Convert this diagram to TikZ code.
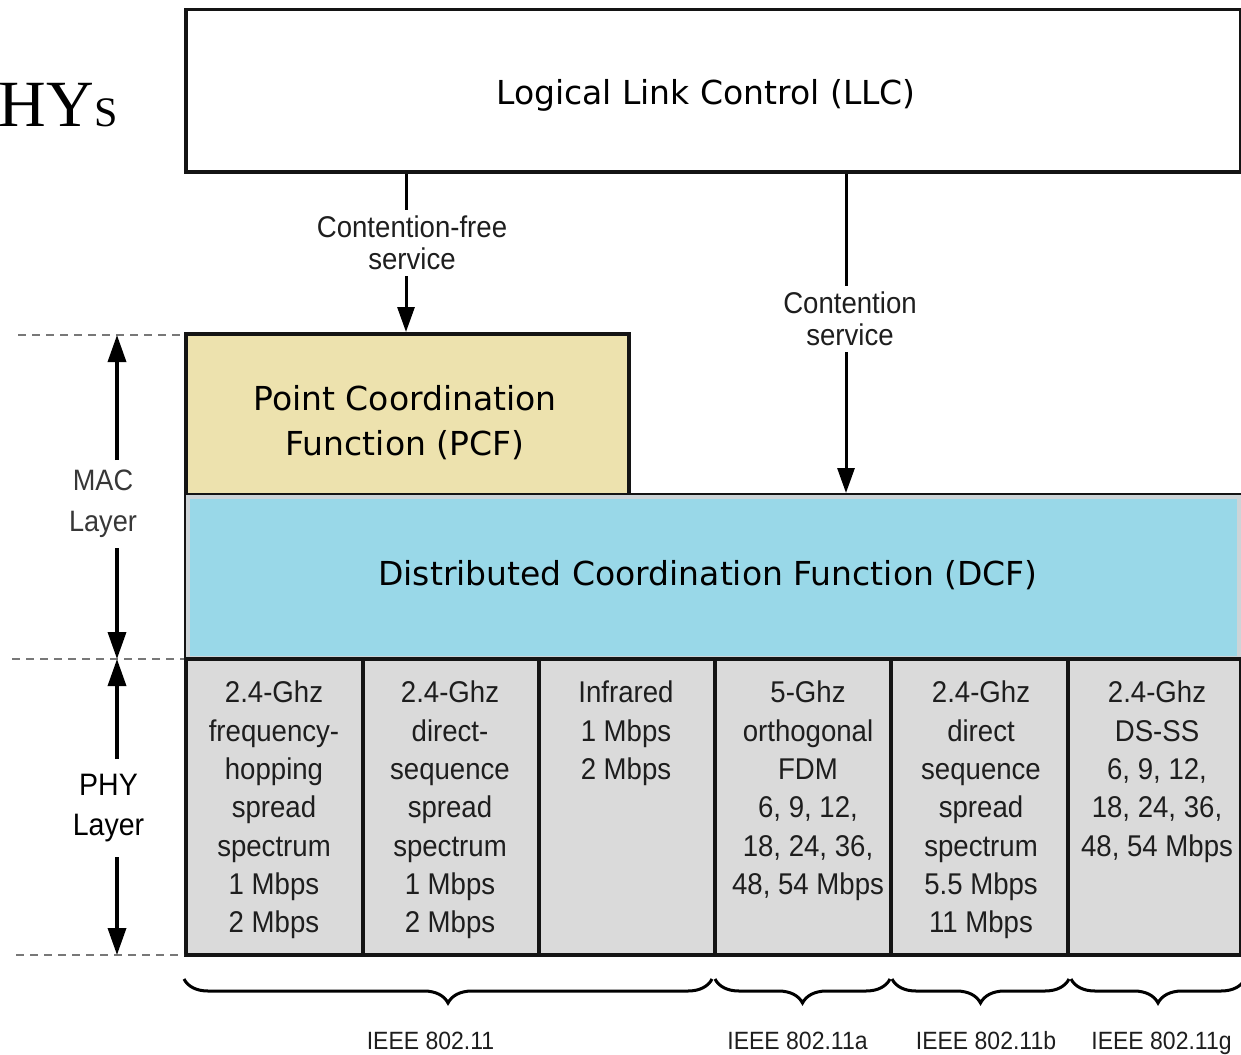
\documentclass[tikz,border=0pt]{standalone}
\usepackage{fontspec}
\setmainfont{DejaVu Sans}
\newfontfamily\lblfont[FakeStretch=0.92]{Liberation Sans}
\newfontfamily\headfont{Liberation Serif}
\usetikzlibrary{arrows.meta,decorations.pathreplacing}

\definecolor{pcfbeige}{RGB}{237,226,174}
\definecolor{dcfblue}{RGB}{153,216,232}
\definecolor{phygray}{RGB}{218,218,218}
\definecolor{rimgray}{RGB}{205,212,215}
\definecolor{labelgray}{RGB}{30,30,30}
\definecolor{macgray}{RGB}{55,55,55}
\definecolor{dashgray}{RGB}{120,120,120}

\tikzset{
  layerbox/.style={draw=black!92, line width=3.5pt, inner sep=0pt, anchor=north west},
  cellbox/.style={layerbox, fill=phygray, minimum height=296pt},
  boxtext/.style={font=\fontsize{33}{45}\selectfont, align=center, inner sep=0pt},
  phytext/.style={font=\lblfont\fontsize{30}{38.3}\selectfont, text=labelgray, align=center, inner sep=0pt, anchor=north},
  svctext/.style={font=\lblfont\fontsize{30}{32}\selectfont, text=labelgray, align=center, inner xsep=0pt, inner ysep=6pt, anchor=north},
  sidetext/.style={align=center, inner xsep=0pt, anchor=north},
  flow/.style={line width=3pt, -{Triangle[length=25pt,width=17pt]}},
  plainflow/.style={line width=3pt},
  sideflow/.style={line width=3.5pt, -{Triangle[length=27pt,width=18pt]}},
  guide/.style={dashgray, line width=1.5pt, dash pattern=on 8pt off 6pt},
  span/.style={decorate, decoration={brace, mirror, amplitude=24pt}, line width=3pt},
  stdtext/.style={font=\lblfont\fontsize{25}{30}\selectfont, text=labelgray, inner sep=0pt, anchor=base},
}

\begin{document}
\begin{tikzpicture}[x=1pt,y=-1pt]
\useasboundingbox (0,0) rectangle (1241,1054);

% heading fragment
\node[font=\headfont\fontsize{66}{66}\selectfont, anchor=base west, inner sep=0pt] (head) at (-1.5,127) {HY{\fontsize{42}{42}\selectfont S}};

% layer boxes
\node[layerbox, fill=white, minimum width=1055pt, minimum height=162pt] (llc) at (184,8) {};
\node[boxtext, anchor=base] (llctext) at (706,105) {Logical Link Control (LLC)};

\node[layerbox, fill=pcfbeige, minimum width=443pt, minimum height=161pt] (pcf) at (184,332) {};
\node[boxtext, anchor=north] (pcftext) at (405,385) {Point Coordination\\Function (PCF)};

\node[layerbox, fill=dcfblue, minimum width=1055pt, minimum height=164pt] (dcf) at (184,493) {};
\draw[rimgray, line width=4pt] ([shift={(4,4)}]dcf.north west) rectangle ([shift={(-4,-3)}]dcf.south east);
\node[boxtext, anchor=base] (dcftext) at (708,585) {Distributed Coordination Function (DCF)};

% physical layer cells
\node[cellbox, minimum width=177pt] (phy1) at (184,657) {};
\node[cellbox, minimum width=176pt] (phy2) at (361,657) {};
\node[cellbox, minimum width=176pt] (phy3) at (537,657) {};
\node[cellbox, minimum width=176pt] (phy4) at (713,657) {};
\node[cellbox, minimum width=177pt] (phy5) at (889,657) {};
\node[cellbox, minimum width=173pt] (phy6) at (1066,657) {};

\node[phytext] (t1) at (274,681) {2.4-Ghz\\frequency-\\hopping\\spread\\spectrum\\1 Mbps\\2 Mbps};
\node[phytext] (t2) at (450,681) {2.4-Ghz\\direct-\\sequence\\spread\\spectrum\\1 Mbps\\2 Mbps};
\node[phytext] (t3) at (626,681) {Infrared\\1 Mbps\\2 Mbps};
\node[phytext] (t4) at (808,681) {5-Ghz\\orthogonal\\FDM\\6, 9, 12,\\18, 24, 36,\\48, 54 Mbps};
\node[phytext] (t5) at (981,681) {2.4-Ghz\\direct\\sequence\\spread\\spectrum\\5.5 Mbps\\11 Mbps};
\node[phytext] (t6) at (1157,681) {2.4-Ghz\\DS-SS\\6, 9, 12,\\18, 24, 36,\\48, 54 Mbps};

% service connectors
\coordinate (cfx) at (406,0);
\coordinate (csx) at (846,0);
\node[svctext] (cfs) at (412,210) {Contention-free\\service};
\node[svctext] (cs) at (850,286) {Contention\\service};
\draw[plainflow] (llc.south -| cfx) -- (cfs.north -| cfx);
\draw[flow] (cfs.south -| cfx) -- (pcf.north -| cfx);
\draw[plainflow] (llc.south -| csx) -- (cs.north -| csx);
\draw[flow] (cs.south -| csx) -- (dcf.north -| csx);

% layer guides on the left
\coordinate (g1) at (18,335);
\coordinate (g2) at (12,659);
\coordinate (g3) at (16,955);
\draw[guide] (g1) -- (g1 -| pcf.west);
\draw[guide] (g2) -- (g2 -| dcf.west);
\draw[guide] (g3) -- (g3 -| phy1.west);

\coordinate (macTop) at (117,335);
\coordinate (macBot) at (117,659);
\coordinate (phyTop) at (117,659);
\coordinate (phyBot) at (117,955);

\node[sidetext, font=\lblfont\fontsize{29.5}{41}\selectfont, text=macgray, inner ysep=10pt] (mac) at (103,460) {MAC\\Layer};
\node[sidetext, font=\lblfont\fontsize{31}{40}\selectfont, text=black, inner ysep=15pt] (phy) at (108.5,759) {PHY\\Layer};
\draw[sideflow] (mac.north -| macTop) -- (macTop);
\draw[sideflow] (mac.south -| macBot) -- (macBot);
\draw[sideflow] (phy.north -| phyTop) -- (phyTop);
\draw[sideflow] (phy.south -| phyBot) -- (phyBot);

% standard groupings
\draw[span] (184,979) -- (712,979);
\draw[span] (715,979) -- (890,979);
\draw[span] (892,979) -- (1069,979);
\draw[span] (1071,979) -- (1245,979);
\node[stdtext] (s1) at (430.5,1049) {IEEE 802.11};
\node[stdtext] (s2) at (797.5,1049) {IEEE 802.11a};
\node[stdtext] (s3) at (986,1049) {IEEE 802.11b};
\node[stdtext] (s4) at (1161.5,1049) {IEEE 802.11g};
\end{tikzpicture}
\end{document}
